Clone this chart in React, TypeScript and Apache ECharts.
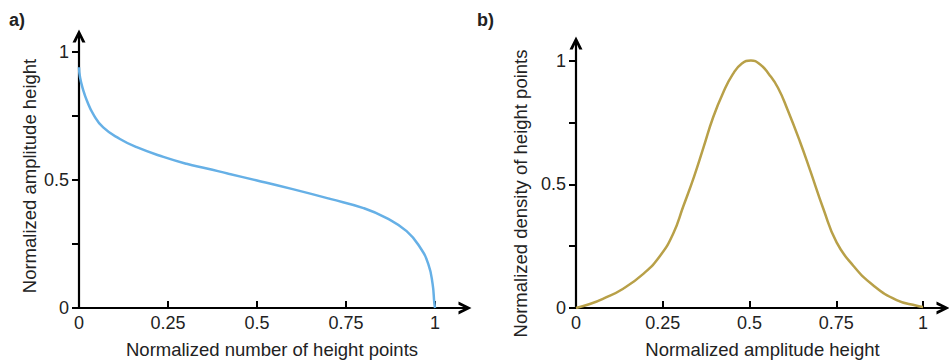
import React, { useEffect, useRef } from "react";
import * as echarts from "echarts";

const tickValues = [0, 0.25, 0.5, 0.75, 1];
const yLabelValues = [0, 0.5, 1];

const leftX = [0, 0.003, 0.012, 0.022, 0.04, 0.068, 0.115, 0.162, 0.237, 0.302, 0.359, 0.42, 0.5, 0.6, 0.705, 0.799, 0.864, 0.92, 0.958, 0.981, 0.993, 0.998, 1];
const leftY = [0.94, 0.9, 0.85, 0.81, 0.757, 0.705, 0.66, 0.628, 0.59, 0.563, 0.545, 0.524, 0.498, 0.464, 0.426, 0.39, 0.351, 0.3, 0.236, 0.171, 0.094, 0.017, 0];

const rightX = [0, 0.04, 0.079, 0.136, 0.194, 0.242, 0.28, 0.309, 0.34, 0.367, 0.395, 0.424, 0.452, 0.478, 0.504, 0.53, 0.556, 0.582, 0.61, 0.646, 0.675, 0.713, 0.751, 0.799, 0.857, 0.924, 0.982, 1.0];
const rightY = [0, 0.016, 0.038, 0.078, 0.138, 0.21, 0.3, 0.41, 0.53, 0.647, 0.77, 0.87, 0.945, 0.988, 1.0, 0.985, 0.945, 0.89, 0.8, 0.67, 0.555, 0.4, 0.265, 0.171, 0.091, 0.032, 0.009, 0.004];

const leftXName = "Normalized number of height points";
const leftYName = "Normalized amplitude height";
const rightXName = "Normalized amplitude height";
const rightYName = "Normalized density of height points";

const FONT = "'Liberation Sans', Arial, sans-serif";
const TEXT = "#222";
const ARROW = "path://M0,12 L6,0 L12,12 L9,12 L6,5.5 L3,12 Z";

function pad(shift: number) {
  return [0, shift > 0 ? shift : 0, 0, shift < 0 ? -shift : 0];
}

function xAxis(gridIndex: number, max: number, name: string, shift: number) {
  return {
    type: "value",
    gridIndex,
    min: 0,
    max,
    name,
    nameLocation: "middle",
    nameGap: 32,
    nameTextStyle: { fontFamily: FONT, fontSize: 18.5, color: TEXT, padding: pad(shift) },
    splitLine: { show: false },
    axisLine: { show: true, lineStyle: { color: "#000", width: 2.2 }, symbol: ["none", ARROW], symbolSize: [14, 13] },
    axisTick: { show: true, inside: true, length: 7, lineStyle: { color: "#000", width: 2 }, customValues: tickValues },
    axisLabel: { fontFamily: FONT, fontSize: 18, color: TEXT, margin: 6, customValues: tickValues, formatter: (v: number) => String(v) },
  };
}

function yAxis(gridIndex: number, max: number, name: string, shift: number, gap: number) {
  return {
    type: "value",
    gridIndex,
    min: 0,
    max,
    name,
    nameLocation: "middle",
    nameGap: gap,
    nameRotate: 90,
    nameTextStyle: { fontFamily: FONT, fontSize: 18.5, color: TEXT, padding: pad(shift) },
    splitLine: { show: false },
    axisLine: { show: true, lineStyle: { color: "#000", width: 2.2 }, symbol: ["none", ARROW], symbolSize: [14, 13] },
    axisTick: { show: true, inside: false, length: 7, lineStyle: { color: "#000", width: 2 }, customValues: tickValues },
    axisLabel: { fontFamily: FONT, fontSize: 18, color: TEXT, margin: 10, customValues: yLabelValues, formatter: (v: number) => String(v) },
  };
}

export default function App() {
  const ref = useRef<HTMLDivElement>(null);
  useEffect(() => {
    if (!ref.current) return;
    const chart = echarts.init(ref.current, null, { renderer: "svg" });
    chart.setOption({
      animation: false,
      backgroundColor: "#fff",
      grid: [
        { left: 79, top: 36, width: 386, height: 275 },
        { left: 576, top: 43, width: 367, height: 270 },
      ],
      xAxis: [xAxis(0, 1.084, leftXName, 0), xAxis(1, 1.0576, rightXName, -6)],
      yAxis: [yAxis(0, 1.062, leftYName, 8, 40), yAxis(1, 1.071, rightYName, 36, 46)],
      graphic: [
        { type: "text", left: 9, top: 11, style: { text: "a)", font: `bold 18px ${FONT}`, fill: TEXT } },
        { type: "text", left: 477, top: 11, style: { text: "b)", font: `bold 18px ${FONT}`, fill: TEXT } },
      ],
      series: [
        {
          type: "line",
          xAxisIndex: 0,
          yAxisIndex: 0,
          data: leftX.map((x, i) => [x, leftY[i]]),
          smooth: 0.5,
          showSymbol: false,
          lineStyle: { color: "#66b0e6", width: 2.5 },
        },
        {
          type: "line",
          xAxisIndex: 1,
          yAxisIndex: 1,
          data: rightX.map((x, i) => [x, rightY[i]]),
          smooth: 0.5,
          showSymbol: false,
          lineStyle: { color: "#b8a048", width: 2.5 },
        },
      ],
    });
    return () => chart.dispose();
  }, []);
  return <div ref={ref} style={{ position: "fixed", left: 0, top: 0, width: 949, height: 364 }} />;
}
